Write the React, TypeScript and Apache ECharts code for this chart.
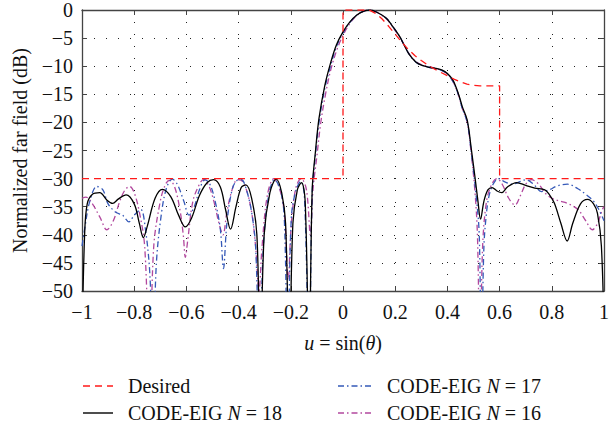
import React, { useEffect, useRef } from "react";
import * as echarts from "echarts";

const FONT = "'Liberation Serif', 'DejaVu Serif', serif";

const xTicks = [-1, -0.8, -0.6, -0.4, -0.2, 0, 0.2, 0.4, 0.6, 0.8, 1];
const yTicks = [0, -5, -10, -15, -20, -25, -30, -35, -40, -45, -50];

const seriesNames = ["Desired", "CODE-EIG N = 18", "CODE-EIG N = 17", "CODE-EIG N = 16"];
const seriesColors = ["#ff1a1a", "#000000", "#3559b8", "#b2489e"];

const desired: number[][] = [
  [-1, -30], [0, -30], [0, 0], [0.1, 0], [0.125, -0.6], [0.15, -1.6], [0.175, -2.9],
  [0.2, -4.3], [0.225, -5.7], [0.25, -7.0], [0.275, -8.1], [0.3, -9.0], [0.325, -9.8],
  [0.35, -10.5], [0.375, -11.1], [0.4, -11.7], [0.425, -12.3], [0.45, -12.8],
  [0.475, -13.2], [0.5, -13.4], [0.525, -13.5], [0.6, -13.5], [0.6, -30], [1, -30],
];

const codeEigN18: number[][] = [
  [-1, -60], [-0.99, -40], [-0.98, -34.5], [-0.96, -32.8], [-0.932, -32.5], [-0.905, -33.8],
  [-0.883, -34.4], [-0.86, -33.6], [-0.831, -32.9], [-0.8, -34.5], [-0.78, -38], [-0.765, -40.5],
  [-0.75, -38.5], [-0.72, -33.5], [-0.692, -31.9], [-0.66, -33.2], [-0.63, -36.5], [-0.604, -38.6],
  [-0.58, -37], [-0.55, -33], [-0.52, -30.7], [-0.496, -30.2], [-0.47, -31.5], [-0.45, -35.5],
  [-0.431, -39], [-0.41, -35], [-0.39, -31.6], [-0.372, -31.1], [-0.35, -33.5], [-0.33, -40],
  [-0.317, -62], [-0.302, -40], [-0.28, -32.5], [-0.256, -30.1], [-0.235, -32.5], [-0.22, -38],
  [-0.206, -62], [-0.192, -38], [-0.175, -32], [-0.159, -30.7], [-0.145, -34], [-0.13, -62],
  [-0.118, -32], [-0.105, -24.9], [-0.092, -19.3], [-0.07, -13.5], [-0.048, -9.5], [-0.025, -6.2],
  [0, -3.9], [0.025, -2.2], [0.053, -0.9], [0.08, -0.2], [0.103, 0], [0.13, -0.4], [0.167, -1.5],
  [0.19, -2.9], [0.217, -4.7], [0.235, -6.3], [0.255, -8.0], [0.28, -9.3], [0.3, -9.8],
  [0.33, -10.2], [0.356, -10.4], [0.38, -10.7], [0.4, -11.3], [0.42, -12.4], [0.432, -13.6],
  [0.445, -15.3], [0.457, -17.2], [0.476, -19.6], [0.492, -24.9], [0.505, -29.5], [0.517, -34],
  [0.527, -37.2], [0.54, -34], [0.555, -32], [0.571, -31.6], [0.59, -32.2], [0.608, -32.5],
  [0.63, -31.5], [0.665, -30.7], [0.7, -31.2], [0.735, -31.7], [0.773, -32], [0.79, -32.8],
  [0.81, -34.4], [0.835, -38], [0.859, -41.1], [0.88, -38], [0.91, -34.5], [0.937, -33.7],
  [0.96, -34.5], [0.975, -36.2], [0.99, -42], [1, -58],
];

const codeEigN17: number[][] = [
  [-1, -42], [-0.99, -39], [-0.97, -34], [-0.943, -31.4], [-0.92, -32], [-0.9, -34.5],
  [-0.87, -36], [-0.845, -36.5], [-0.82, -37.7], [-0.8, -36.5], [-0.775, -35.5], [-0.757, -39],
  [-0.74, -47], [-0.728, -62], [-0.715, -45], [-0.695, -36], [-0.675, -31.5], [-0.654, -30.1],
  [-0.635, -31], [-0.61, -34], [-0.59, -36.5], [-0.57, -35], [-0.55, -32], [-0.529, -30.2],
  [-0.51, -31], [-0.49, -34], [-0.47, -39], [-0.458, -46], [-0.445, -38], [-0.425, -32],
  [-0.405, -30.3], [-0.389, -30.2], [-0.37, -32], [-0.35, -36], [-0.335, -42], [-0.32, -62],
  [-0.305, -42], [-0.285, -33], [-0.262, -30.2], [-0.24, -32], [-0.225, -37], [-0.212, -62],
  [-0.198, -37], [-0.18, -32], [-0.162, -30.5], [-0.148, -33], [-0.13, -62], [-0.118, -32.5],
  [-0.105, -25.5], [-0.092, -20], [-0.07, -14], [-0.048, -10], [-0.025, -6.5], [0, -4.1],
  [0.025, -2.3], [0.053, -0.9], [0.08, -0.2], [0.103, 0], [0.13, -0.4], [0.167, -1.5],
  [0.19, -2.9], [0.217, -4.7], [0.235, -6.3], [0.255, -8.0], [0.28, -9.3], [0.3, -9.8],
  [0.33, -10.2], [0.356, -10.5], [0.38, -10.8], [0.4, -11.4], [0.42, -12.6], [0.432, -13.8],
  [0.445, -15.5], [0.457, -17.5], [0.476, -20], [0.492, -25.5], [0.51, -33], [0.522, -40],
  [0.53, -62], [0.54, -42], [0.55, -36], [0.56, -33], [0.575, -31], [0.596, -30],
  [0.62, -30.6], [0.65, -31], [0.68, -30.5], [0.7, -30.2], [0.73, -31], [0.76, -32.3],
  [0.79, -32], [0.82, -31.3], [0.86, -31], [0.9, -31.8], [0.93, -32.8], [0.96, -34],
  [0.98, -35.5], [1, -37.5],
];

const codeEigN16: number[][] = [
  [-1, -33.5], [-0.985, -33.3], [-0.96, -34.5], [-0.93, -37], [-0.905, -39.1], [-0.88, -37.5],
  [-0.855, -34], [-0.835, -32], [-0.817, -31.4], [-0.8, -32.5], [-0.78, -36], [-0.76, -42],
  [-0.741, -62], [-0.725, -42], [-0.7, -34], [-0.68, -31], [-0.665, -30.3], [-0.645, -31.5],
  [-0.625, -35.5], [-0.612, -40], [-0.604, -44], [-0.595, -41], [-0.575, -34], [-0.55, -31],
  [-0.535, -30.2], [-0.515, -31.2], [-0.495, -34], [-0.475, -38], [-0.46, -40], [-0.445, -36],
  [-0.425, -32], [-0.405, -30.2], [-0.39, -30.3], [-0.37, -32], [-0.35, -36], [-0.335, -42],
  [-0.322, -50], [-0.31, -42], [-0.29, -33], [-0.265, -30], [-0.245, -31.5], [-0.225, -36],
  [-0.21, -48], [-0.198, -38], [-0.18, -31.5], [-0.16, -30], [-0.14, -32], [-0.125, -40],
  [-0.115, -32], [-0.1, -26], [-0.085, -20], [-0.065, -14.5], [-0.045, -10.3], [-0.022, -6.9],
  [0, -4.5], [0.025, -2.5], [0.05, -1.1], [0.08, -0.2], [0.105, 0], [0.13, -0.4], [0.167, -1.6],
  [0.19, -3.0], [0.217, -4.8], [0.235, -6.3], [0.255, -7.9], [0.28, -9.2], [0.3, -9.7],
  [0.33, -10.1], [0.356, -10.4], [0.38, -10.8], [0.4, -11.4], [0.42, -12.6], [0.432, -13.8],
  [0.445, -15.5], [0.457, -17.5], [0.476, -20], [0.49, -25], [0.505, -32], [0.515, -40],
  [0.525, -62], [0.535, -42], [0.55, -34], [0.57, -31], [0.59, -30], [0.61, -31],
  [0.635, -33.5], [0.659, -34.7], [0.68, -33], [0.7, -31], [0.722, -30.2], [0.75, -31],
  [0.775, -32.6], [0.8, -33.5], [0.83, -34], [0.86, -34.4], [0.9, -35.5], [0.93, -37.5],
  [0.955, -39.1], [0.975, -38], [0.993, -35.6], [1, -35],
];

const fmtX = (v: number) => {
  const r = Math.round(v * 10) / 10;
  if (r === 0) return "0";
  const s = String(Math.abs(r));
  return r < 0 ? "\u2212" + s : s;
};
const fmtY = (v: number) => (v < 0 ? "\u2212" + Math.abs(v) : "0");

const DASHES: any[] = [[7, 5], null, [6, 3, 1.5, 3], [6, 3, 1.5, 3]];

export default function App() {
  const ref = useRef<HTMLDivElement>(null);
  useEffect(() => {
    document.body.style.margin = "0";
    const chart = echarts.init(ref.current!, null, { renderer: "svg" });
    const axisColor = "#444";
    const splitStyle = { type: [1, 11] as any, color: "#222", width: 1 };
    const baseX = {
      type: "value" as const,
      min: xTicks[0],
      max: xTicks[xTicks.length - 1],
      interval: 0.2,
      axisLine: { show: true, onZero: false, lineStyle: { color: axisColor, width: 1.3 } },
      axisTick: { show: true, inside: true, length: 5, lineStyle: { color: axisColor } },
    };
    const baseY = {
      type: "value" as const,
      min: yTicks[yTicks.length - 1],
      max: yTicks[0],
      interval: 5,
      axisLine: { show: true, onZero: false, lineStyle: { color: axisColor, width: 1.3 } },
      axisTick: { show: true, inside: true, length: 5, lineStyle: { color: axisColor } },
    };
    const rich = {
      i: { fontStyle: "italic", fontFamily: FONT, fontSize: 20, fill: "#111", color: "#111" },
    };
    const lineSeries = (idx: number, data: number[][], smooth: any, z: number) => ({
      name: seriesNames[idx],
      type: "line" as const,
      data,
      symbol: "none",
      showSymbol: false,
      smooth,
      clip: true,
      z,
      lineStyle: { color: seriesColors[idx], width: 1.3, type: DASHES[idx] || "solid" },
      itemStyle: { color: seriesColors[idx] },
    });

    // legend drawn as graphic: two columns
    const legendPos = [
      { x: 83, y: 386, w: 30 },
      { x: 83, y: 413, w: 30 },
      { x: 338, y: 386, w: 34 },
      { x: 338, y: 413, w: 34 },
    ];
    const legendGraphics: any[] = [];
    seriesNames.forEach((name, i) => {
      const p = legendPos[i];
      legendGraphics.push({
        type: "line",
        shape: { x1: p.x, y1: p.y, x2: p.x + p.w, y2: p.y },
        style: { stroke: seriesColors[i], lineWidth: 1.4, lineDash: DASHES[i] || undefined },
      });
      legendGraphics.push({
        type: "text",
        x: p.x + p.w + 15,
        y: p.y,
        style: {
          text: name.replace(" N ", " {i|N} "),
          fontSize: 20,
          fontFamily: FONT,
          fill: "#111",
          verticalAlign: "middle",
          align: "left",
          rich: { i: { fontStyle: "italic", fontSize: 20, fontFamily: FONT, fill: "#111" } },
        },
      });
    });

    chart.setOption({
      animation: false,
      backgroundColor: "#fff",
      textStyle: { fontFamily: FONT },
      grid: { left: 82, right: 2, top: 10, bottom: 139, containLabel: false },
      xAxis: [
        {
          ...baseX,
          position: "bottom",
          axisLabel: { formatter: fmtX, fontSize: 20, color: "#111", margin: 11, fontFamily: FONT, showMaxLabel: true, showMinLabel: true },
          splitLine: { show: true, lineStyle: splitStyle },
          name: "{i|u} = sin({i|\u03b8})",
          nameLocation: "middle",
          nameGap: 42,
          nameTextStyle: { fontSize: 20, color: "#111", fontFamily: FONT, rich },
        },
        {
          ...baseX,
          position: "top",
          axisLabel: { show: false },
          splitLine: { show: false },
        },
      ],
      yAxis: [
        {
          ...baseY,
          position: "left",
          axisLabel: { formatter: fmtY, fontSize: 20, color: "#111", margin: 9, fontFamily: FONT },
          splitLine: { show: true, lineStyle: splitStyle },
          name: "Normalized far field (dB)",
          nameLocation: "middle",
          nameGap: 52,
          nameTextStyle: { fontSize: 20, color: "#111", fontFamily: FONT },
        },
        {
          ...baseY,
          position: "right",
          axisLabel: { show: false },
          splitLine: { show: false },
        },
      ],
      graphic: legendGraphics,
      series: [
        lineSeries(3, codeEigN16, 0.35, 2),
        lineSeries(2, codeEigN17, 0.35, 3),
        lineSeries(1, codeEigN18, 0.35, 4),
        lineSeries(0, desired, false, 5),
      ],
    });
    return () => chart.dispose();
  }, []);
  return <div ref={ref} style={{ position: "fixed", left: 0, top: 0, width: 612, height: 430 }} />;
}
